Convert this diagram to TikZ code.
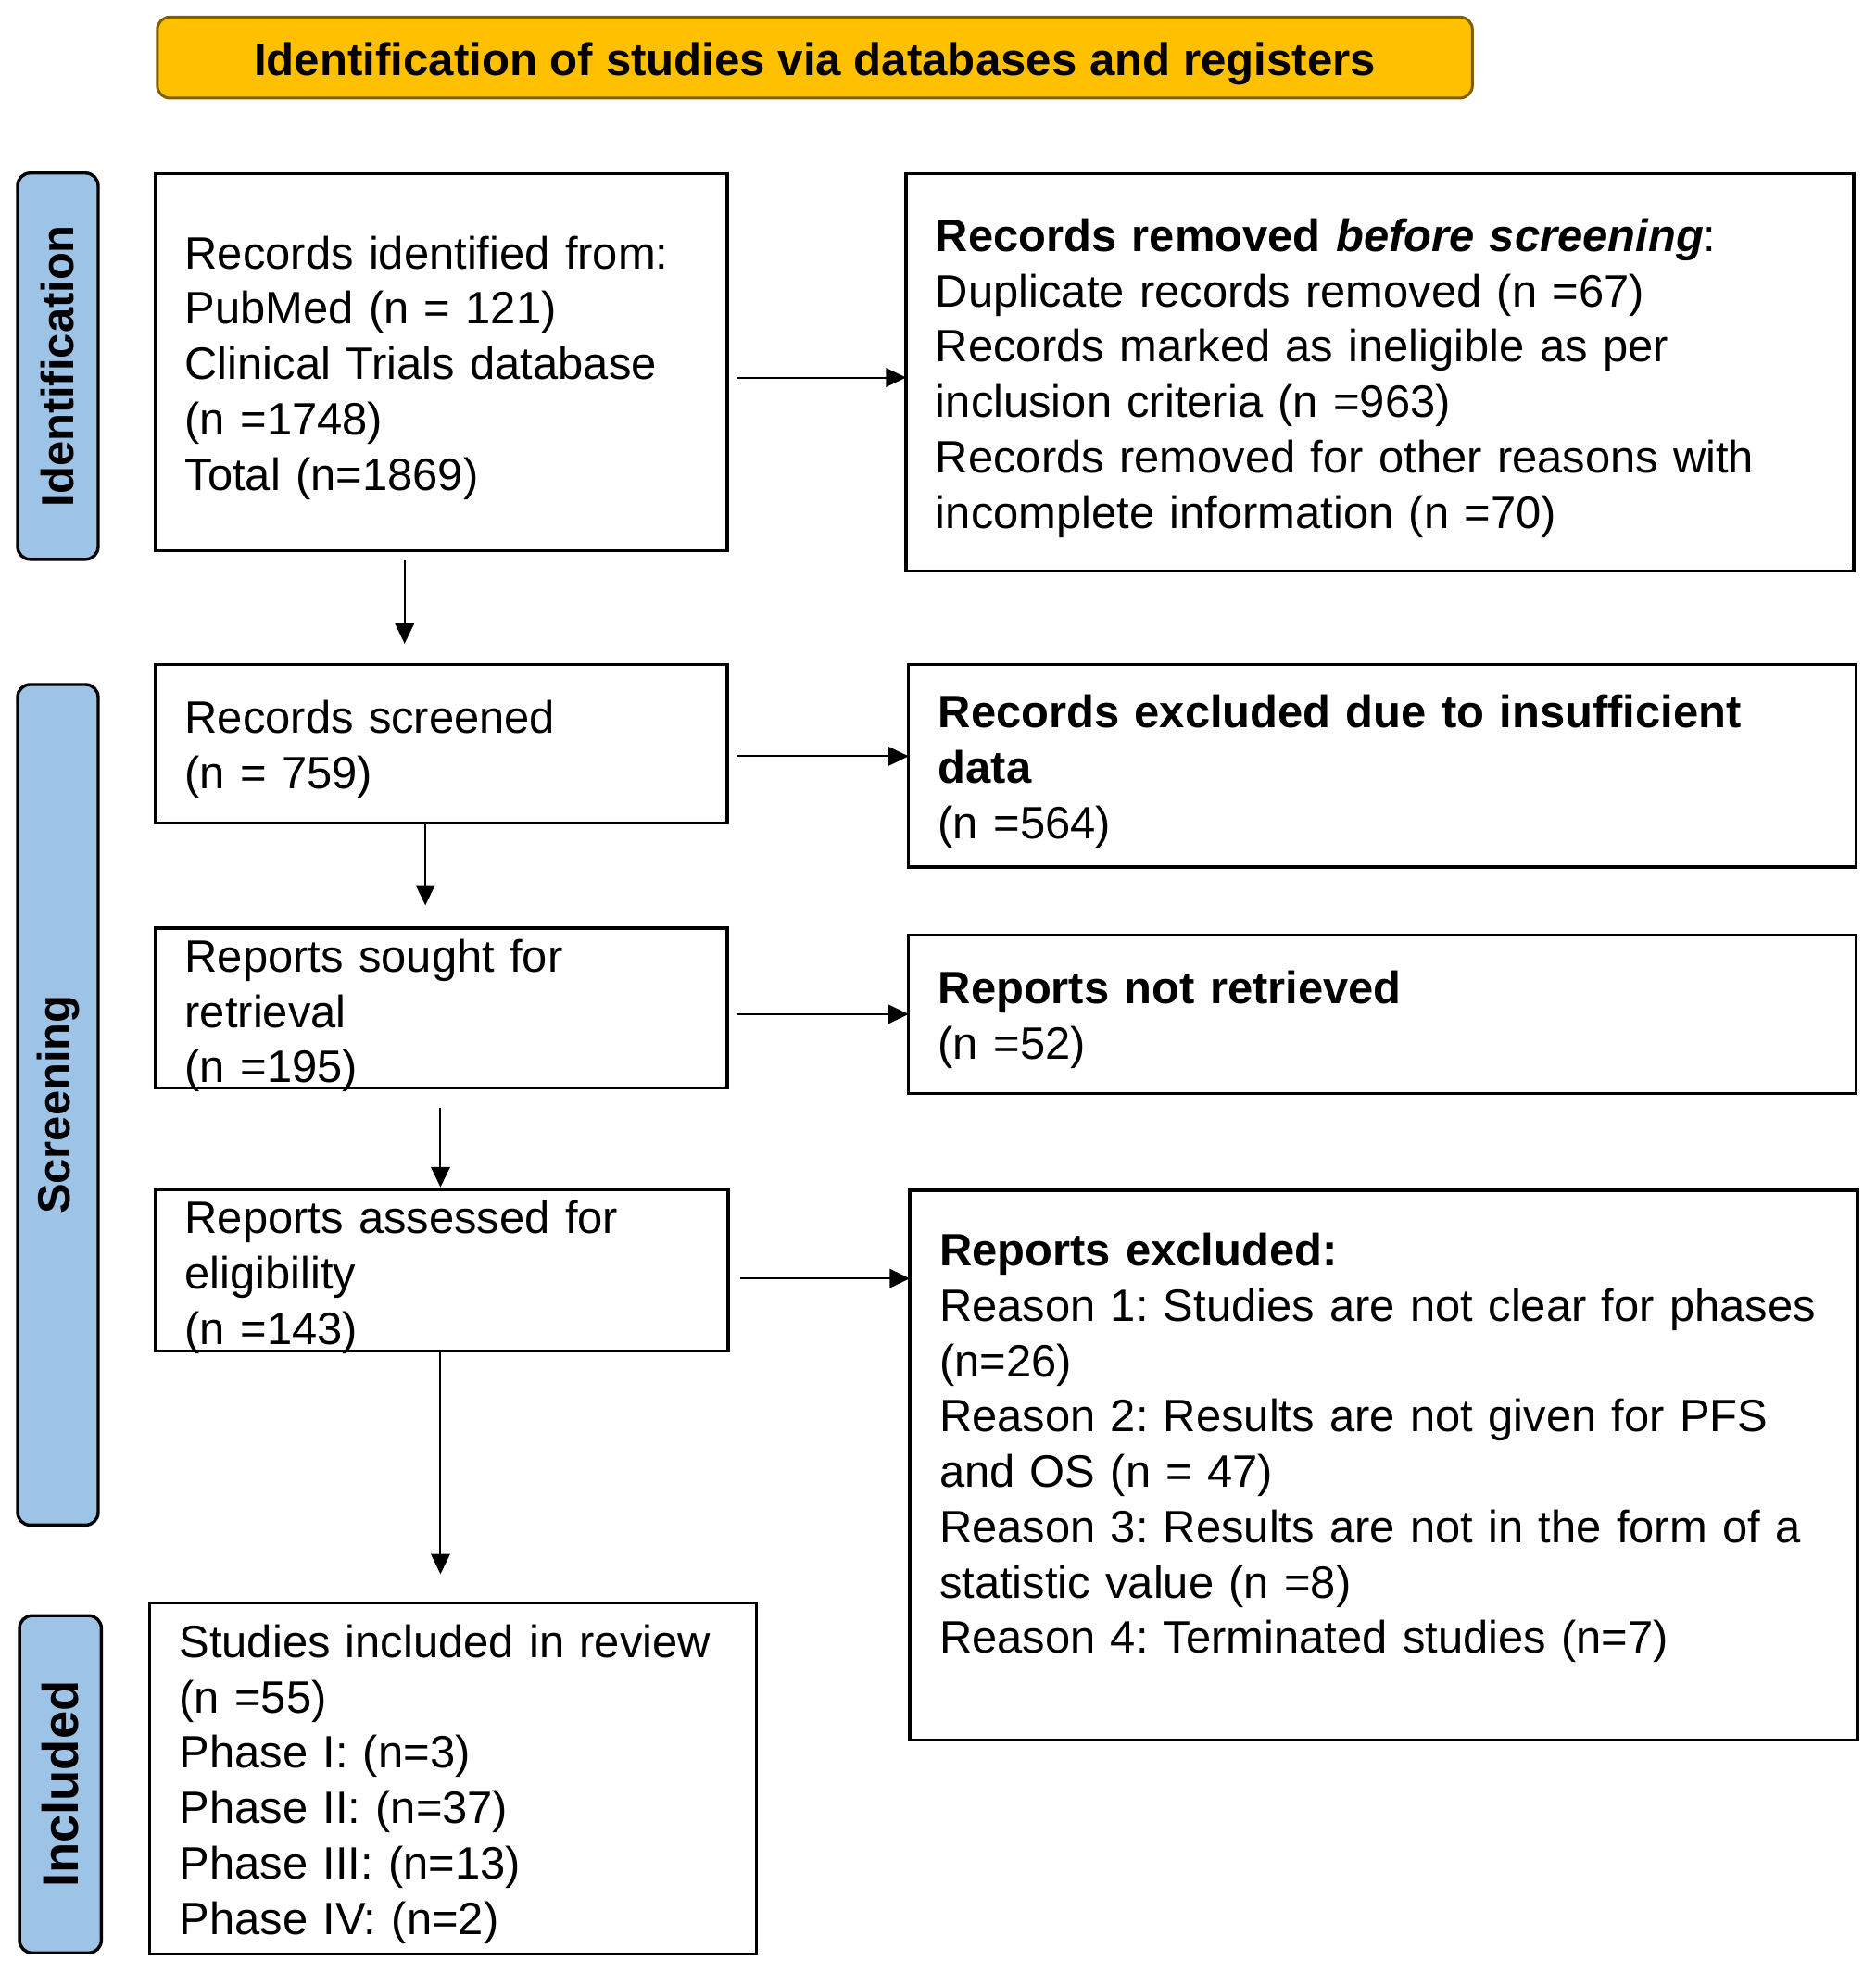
\documentclass[tikz,border=0pt]{standalone}
\usepackage{fontspec}
\setmainfont{Liberation Sans}
\usetikzlibrary{arrows.meta,calc}
\definecolor{titlefill}{HTML}{FFC000}
\definecolor{titledraw}{HTML}{7F6000}
\definecolor{labfill}{HTML}{9DC3E6}
\begin{document}
\begin{tikzpicture}[x=1pt,y=-1pt,
  every node/.style={inner sep=0pt, outer sep=0pt},
  mainfont/.style={font=\fontsize{36pt}{44pt}\selectfont\frenchspacing},
  titlebox/.style={draw=titledraw, line width=2.2pt, fill=titlefill, rounded corners=10pt,
     minimum width=1045pt, minimum height=64.5pt, text height=29pt, text depth=0pt,
     font=\fontsize{36.2pt}{44pt}\selectfont\bfseries},
  sidelab/.style={draw=black, line width=2.5pt, fill=labfill, rounded corners=10pt,
     rotate=90, minimum height=64pt},
  box/.style={draw=black, line width=2.5pt, fill=white, align=left, inner xsep=23.5pt,
     mainfont, execute at begin node={\noindent\rule{0pt}{35pt}}},
  tightbox/.style={box, execute at begin node={\noindent\rule{0pt}{34pt}}},
  arr/.style={line width=1.5pt, -{Triangle[length=16pt,width=15pt]}}
]
\useasboundingbox (0,0) rectangle (1490,1568);

% title
\node[titlebox] (title) at (647.5,45.75) {Identification of studies via databases and registers};

% side labels
\node[sidelab, minimum width=307pt, font=\fontsize{36pt}{40pt}\selectfont\bfseries] (labid) at (46,291) {Identification};
\node[sidelab, minimum width=668pt, font=\fontsize{36pt}{40pt}\selectfont\bfseries] (labscr) at (46,878) {Screening};
\node[sidelab, minimum width=268pt, minimum height=65pt, font=\fontsize{40pt}{44pt}\selectfont\bfseries] (labinc) at (48,1418) {Included};

% boxes
\node[box, minimum width=454.5pt, minimum height=299.5pt, text width=407.5pt] (A) at (350.75,287.75)
 {Records identified from:\\PubMed (n = 121)\\Clinical Trials database\\(n =1748)\\Total (n=1869)};
\node[box, minimum width=753pt, minimum height=316pt, text width=706pt] (B) at (1096.5,296)
 {\textbf{Records removed \textit{before screening}}:\\Duplicate records removed (n =67)\\Records marked as ineligible as per\\inclusion criteria (n =963)\\Records removed for other reasons with\\incomplete information (n =70)};
\node[box, minimum width=454.5pt, minimum height=126pt, text width=407.5pt] (C) at (350.75,591)
 {Records screened\\(n = 759)};
\node[box, minimum width=753pt, minimum height=161pt, text width=706pt] (D) at (1098.5,608.5)
 {\textbf{Records excluded due to insufficient}\\\textbf{data}\\(n =564)};
\node[tightbox, text depth=92pt, minimum width=454.5pt, minimum height=126pt, text width=407.5pt] (E) at (350.75,801)
 {Reports sought for\\retrieval\\(n =195)};
\node[box, minimum width=753pt, minimum height=126pt, text width=706pt] (F) at (1098.5,806)
 {\textbf{Reports not retrieved}\\(n =52)};
\node[tightbox, text depth=93pt, minimum width=455pt, minimum height=127pt, text width=408pt] (G) at (351,1009.5)
 {Reports assessed for\\eligibility\\(n =143)};
\node[box, minimum width=753pt, minimum height=437pt, text width=706pt] (H) at (1099.5,1164.5)
 {\textbf{Reports excluded:}\\\mbox{Reason 1: Studies are not clear for phases}\\(n=26)\\\mbox{Reason 2: Results are not given for PFS}\\and OS (n = 47)\\\mbox{Reason 3: Results are not in the form of a}\\statistic value (n =8)\\Reason 4: Terminated studies (n=7)\\\mbox{}};
\node[box, minimum width=482pt, minimum height=279pt, text width=435pt] (I) at (360,1413.5)
 {Studies included in review\\(n =55)\\Phase I: (n=3)\\Phase II: (n=37)\\Phase III: (n=13)\\Phase IV: (n=2)};

% connectors
\draw[arr] ($(A.east)+(7,12.25)$) -- ($(B.west)+(0,4)$);
\draw[arr] ($(A.south)+(-29.25,7.5)$) -- ($(C.north)+(-29.25,-16.5)$);
\draw[arr] ($(C.east)+(7,10)$) -- ($(D.west)+(0,-7.5)$);
\draw[arr] ($(C.south)+(-12.75,1)$) -- ($(E.north)+(-12.75,-18)$);
\draw[arr] ($(E.east)+(7,5)$) -- (F.west);
\draw[arr] ($(E.south)+(-0.75,16)$) -- ($(G.north)+(-1,-2)$);
\draw[arr] ($(G.east)+(9.5,6.5)$) -- ($(H.west)+(0,-148.5)$);
\draw[arr] ($(G.south)+(-1,1)$) -- ($(I.north)+(-10,-23)$);
\end{tikzpicture}
\end{document}
